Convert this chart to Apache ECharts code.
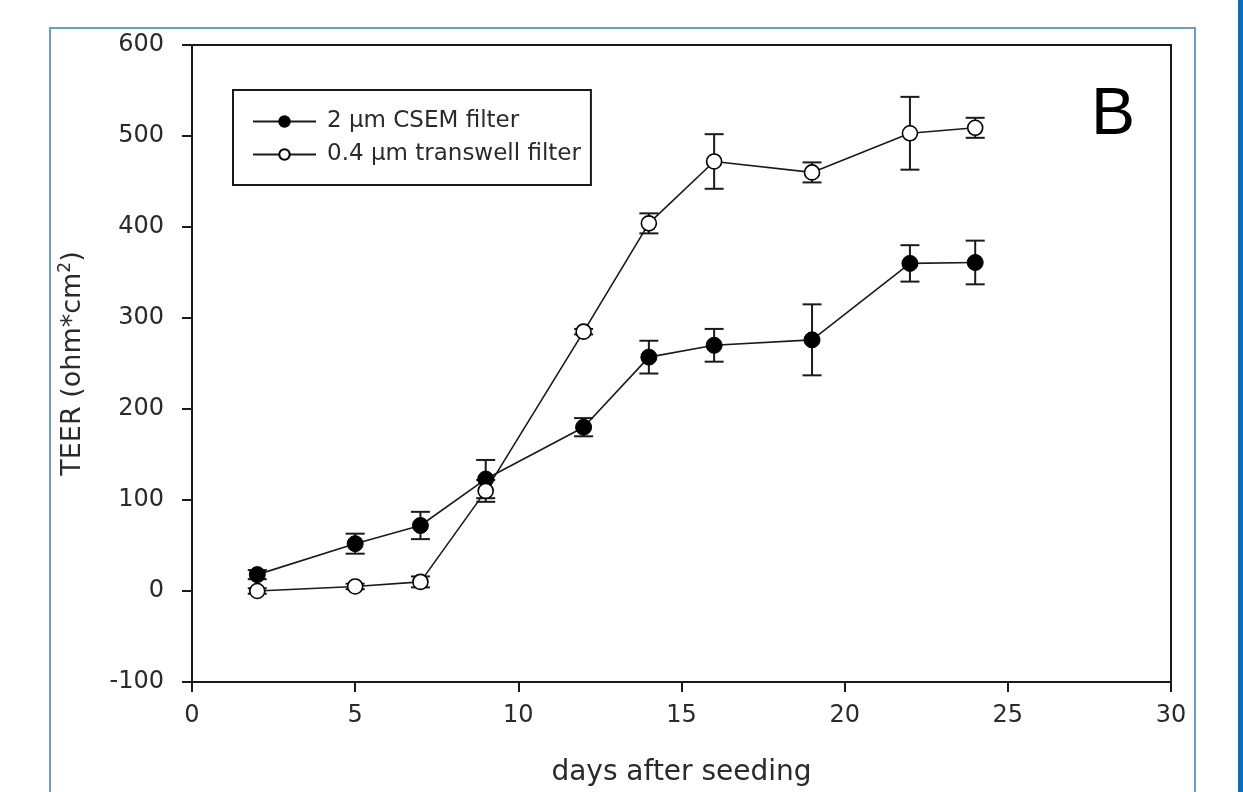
<!DOCTYPE html>
<html>
<head>
<meta charset="utf-8">
<script src="https://cdn.jsdelivr.net/npm/echarts@6/dist/echarts.min.js"></script>
<style>
  html, body { margin: 0; padding: 0; background: #fff; }
  #chart { width: 1243px; height: 792px; }
</style>
</head>
<body>
<div id="chart"></div>
<script>
var days = [2, 5, 7, 9, 12, 14, 16, 19, 22, 24]
var csem = [18, 52, 72, 123, 180, 257, 270, 276, 360, 361]
var csemErr = [5, 11, 15, 21, 10, 18, 18, 39, 20, 24]
var transwell = [0, 5, 10, 110, 285, 404, 472, 460, 503, 509]
var transwellErr = [3, 3, 6, 12, 3, 11, 30, 11, 40, 11]
var xTicks = [0, 30, 5]
var yTicks = [-100, 600, 100]

var ink = '#1a1a1a'
var txt = '#2a2a2a'
var font = 'DejaVu Sans, Verdana, sans-serif'

function pairs(ys) {
  return days.map(function (d, i) { return [d, ys[i]] })
}
function errs(ys, es) {
  return days.map(function (d, i) { return [d, ys[i] - es[i], ys[i] + es[i]] })
}

// error bar with caps
function errBar(params, api) {
  var lo = api.coord([api.value(0), api.value(1)])
  var hi = api.coord([api.value(0), api.value(2)])
  var w = 9.5
  var st = { stroke: ink, lineWidth: 2 }
  return {
    type: 'group',
    children: [
      { type: 'line', shape: { x1: lo[0], y1: lo[1], x2: hi[0], y2: hi[1] }, style: st },
      { type: 'line', shape: { x1: lo[0] - w, y1: lo[1], x2: lo[0] + w, y2: lo[1] }, style: st },
      { type: 'line', shape: { x1: hi[0] - w, y1: hi[1], x2: hi[0] + w, y2: hi[1] }, style: st }
    ]
  }
}

var chart = echarts.init(document.getElementById('chart'))

var option = {
  animation: false,
  backgroundColor: '#fff',
  textStyle: { fontFamily: font },
  title: {
    text: 'B',
    left: 1086,
    top: 78,
    textStyle: { fontSize: 66, fontWeight: 'normal', color: '#000', fontFamily: 'Liberation Sans, Arial, sans-serif' }
  },
  graphic: [
    // thin blue frame
    { type: 'rect', shape: { x: 50, y: 28, width: 1145, height: 800 },
      style: { fill: 'none', stroke: '#6a9ad8', lineWidth: 2 }, z: -1 },
    // right thick blue bar
    { type: 'rect', shape: { x: 1238, y: 0, width: 6, height: 792 },
      style: { fill: '#0b6cc0' }, z: -1 }
  ],
  legend: {
    orient: 'vertical',
    left: 233,
    top: 90,
    padding: [20, 10, 19, 19],
    itemGap: 10,
    itemWidth: 63,
    itemHeight: 13,
    borderColor: ink,
    borderWidth: 2,
    textStyle: { fontSize: 23, color: txt, fontFamily: font, padding: [0, 0, 0, 6] },
    data: ['2 µm CSEM filter', '0.4 µm transwell filter']
  },
  grid: {
    left: 192,
    right: 72,
    top: 45,
    bottom: 110,
    show: true,
    borderColor: ink,
    borderWidth: 2
  },
  xAxis: {
    type: 'value',
    min: xTicks[0],
    max: xTicks[1],
    interval: xTicks[2],
    name: 'days after seeding',
    nameLocation: 'middle',
    nameGap: 77,
    nameTextStyle: { fontSize: 28, color: txt, fontFamily: font },
    axisLine: { onZero: false, lineStyle: { color: ink, width: 2 } },
    axisTick: { inside: false, length: 10, lineStyle: { color: ink, width: 2 } },
    axisLabel: { fontSize: 24, color: txt, margin: 22 },
    splitLine: { show: false }
  },
  yAxis: {
    type: 'value',
    min: yTicks[0],
    max: yTicks[1],
    interval: yTicks[2],
    name: 'TEER (ohm*cm{sup|2})',
    nameLocation: 'middle',
    nameGap: 104,
    nameTextStyle: {
      fontSize: 27, color: txt, fontFamily: font,
      rich: { sup: { fontSize: 17, verticalAlign: 'top', padding: [0, 0, 14, 0], color: txt } }
    },
    axisLine: { onZero: false, lineStyle: { color: ink, width: 2 } },
    axisTick: { inside: false, length: 10, lineStyle: { color: ink, width: 2 } },
    axisLabel: { fontSize: 24, color: txt, margin: 28 },
    splitLine: { show: false }
  },
  series: [
    {
      type: 'custom',
      renderItem: errBar,
      data: errs(csem, csemErr),
      encode: { x: 0, y: [1, 2] },
      z: 1,
      silent: true
    },
    {
      type: 'custom',
      renderItem: errBar,
      data: errs(transwell, transwellErr),
      encode: { x: 0, y: [1, 2] },
      z: 1,
      silent: true
    },
    {
      name: '2 µm CSEM filter',
      type: 'line',
      data: pairs(csem),
      symbol: 'circle',
      symbolSize: 16,
      lineStyle: { color: ink, width: 1.6 },
      itemStyle: { color: '#000', borderColor: '#000', borderWidth: 1 },
      z: 3
    },
    {
      name: '0.4 µm transwell filter',
      type: 'line',
      data: pairs(transwell),
      symbol: 'circle',
      symbolSize: 15,
      lineStyle: { color: ink, width: 1.6 },
      itemStyle: { color: '#fff', borderColor: '#000', borderWidth: 1.6 },
      z: 3
    }
  ]
}

chart.setOption(option)
</script>
</body>
</html>
